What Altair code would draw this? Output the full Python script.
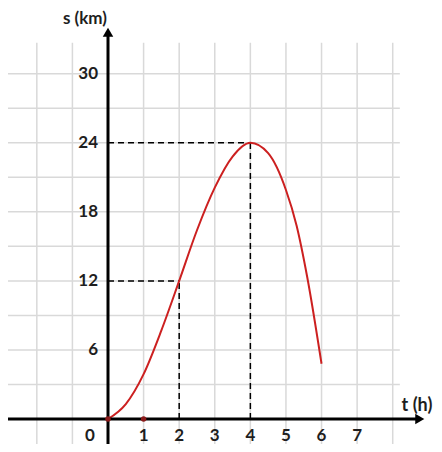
import altair as alt
import pandas as pd

# ---- data ----
t_vals = [0, 0.5, 1.0, 1.5, 2.0, 2.5, 3.0, 3.5, 4.0, 4.5, 5.0, 5.3, 5.6, 6.0]
s_vals = [0, 1.3, 3.9, 7.7, 12.0, 16.4, 20.1, 22.8, 24.0, 23.1, 19.9, 16.8, 12.3, 4.8]

x_tick_vals = [1, 2, 3, 4, 5, 6, 7]
y_tick_vals = [6, 12, 18, 24, 30]
grid_t = [-2, -1, 0, 1, 2, 3, 4, 5, 6, 7, 8]
grid_s = [3, 6, 9, 12, 15, 18, 21, 24, 27, 30]

# guide (dashed) lines: from point on curve to axes
guide_t = [2, 4]
guide_s = [12, 24]

dot_t = [0, 1]
dot_s = [0, 0]

X_MIN, X_MAX = -2.81, 9.16
Y_MIN, Y_MAX = -2.17, 35.71
GRID_TOP = 32.7
GRID_RIGHT = 8.2
AXIS_X_END = 8.76
AXIS_Y_END = 33.6

xs = alt.Scale(domain=[X_MIN, X_MAX], nice=False, zero=False)
ys = alt.Scale(domain=[Y_MIN, Y_MAX], nice=False, zero=False)

GRID_COLOR = "#d9d9d9"
FONT = "Lato"
TXT = "#1e1e1e"


def X(field):
    return alt.X(field, type="quantitative", scale=xs, axis=None)


def Y(field):
    return alt.Y(field, type="quantitative", scale=ys, axis=None)


vgrid = alt.Chart(pd.DataFrame({"t": grid_t, "y0": [Y_MIN] * len(grid_t), "y1": [GRID_TOP] * len(grid_t)})).mark_rule(
    color=GRID_COLOR, strokeWidth=1.5
).encode(x=X("t"), y=Y("y0"), y2="y1")

hgrid = alt.Chart(pd.DataFrame({"s": grid_s, "x0": [X_MIN] * len(grid_s), "x1": [GRID_RIGHT] * len(grid_s)})).mark_rule(
    color=GRID_COLOR, strokeWidth=1.5
).encode(y=Y("s"), x=X("x0"), x2="x1")

# dashed guides
gdf = pd.DataFrame({"t": guide_t, "s": guide_s, "zero": [0] * len(guide_t)})
dash_h = alt.Chart(gdf).mark_rule(color="black", strokeWidth=1.5, strokeDash=[6, 4]).encode(
    x=X("zero"), x2="t", y=Y("s")
)
dash_v = alt.Chart(gdf).mark_rule(color="black", strokeWidth=1.5, strokeDash=[6, 4]).encode(
    x=X("t"), y=Y("zero"), y2="s"
)

# axes
axis_x = alt.Chart(pd.DataFrame({"a": [X_MIN], "b": [AXIS_X_END], "y": [0]})).mark_rule(
    color="black", strokeWidth=3
).encode(x=X("a"), x2="b", y=Y("y"))
axis_y = alt.Chart(pd.DataFrame({"a": [Y_MIN], "b": [AXIS_Y_END], "x": [0]})).mark_rule(
    color="black", strokeWidth=3
).encode(y=Y("a"), y2="b", x=X("x"))

arrow_x = alt.Chart(pd.DataFrame({"x": [AXIS_X_END], "y": [0]})).mark_point(
    shape="triangle-right", filled=True, color="black", size=110, opacity=1
).encode(x=X("x"), y=Y("y"))
arrow_y = alt.Chart(pd.DataFrame({"x": [0], "y": [AXIS_Y_END]})).mark_point(
    shape="triangle-up", filled=True, color="black", size=110, opacity=1
).encode(x=X("x"), y=Y("y"))

# curve
curve = alt.Chart(pd.DataFrame({"t": t_vals, "s": s_vals})).mark_line(
    color="#cc2020", strokeWidth=2, interpolate="monotone"
).encode(x=X("t"), y=Y("s"))

dots = alt.Chart(pd.DataFrame({"t": dot_t, "s": dot_s})).mark_circle(color="#8b1a1a", size=30, opacity=1).encode(
    x=X("t"), y=Y("s")
)

# tick labels
ylab = alt.Chart(pd.DataFrame({"s": y_tick_vals, "x": [0] * len(y_tick_vals), "lab": [str(v) for v in y_tick_vals]})).mark_text(
    align="right", baseline="middle", font=FONT, fontWeight="bold", fontSize=17, dx=-10, color=TXT
).encode(x=X("x"), y=Y("s"), text="lab:N")

xlab = alt.Chart(pd.DataFrame({"t": x_tick_vals, "y": [0] * len(x_tick_vals), "lab": [str(v) for v in x_tick_vals]})).mark_text(
    align="center", baseline="middle", font=FONT, fontWeight="bold", fontSize=17, dy=17, color=TXT
).encode(x=X("t"), y=Y("y"), text="lab:N")

zero_lab = alt.Chart(pd.DataFrame({"t": [0], "y": [0], "lab": ["0"]})).mark_text(
    align="center", baseline="middle", font=FONT, fontWeight="bold", fontSize=17, dx=-18, dy=17, color=TXT
).encode(x=X("t"), y=Y("y"), text="lab:N")

s_title = alt.Chart(pd.DataFrame({"lab": ["s (km)"]})).mark_text(
    align="center", baseline="top", font=FONT, fontWeight="bold", fontSize=17, color=TXT
).encode(x=alt.value(77), y=alt.value(3), text="lab:N")

t_title = alt.Chart(pd.DataFrame({"lab": ["t (h)"]})).mark_text(
    align="center", baseline="middle", font=FONT, fontWeight="bold", fontSize=18, color=TXT
).encode(x=alt.value(409), y=alt.value(398), text="lab:N")

chart = alt.layer(
    vgrid, hgrid, dash_h, dash_v, curve, axis_x, axis_y, arrow_x, arrow_y, dots,
    ylab, xlab, zero_lab, s_title, t_title
).properties(
    width=426, height=436, padding=0, autosize=alt.AutoSizeParams(type="none"), background="white"
).configure_view(stroke=None)

chart.save("out.html", embed_options={"renderer": "svg", "actions": False})
